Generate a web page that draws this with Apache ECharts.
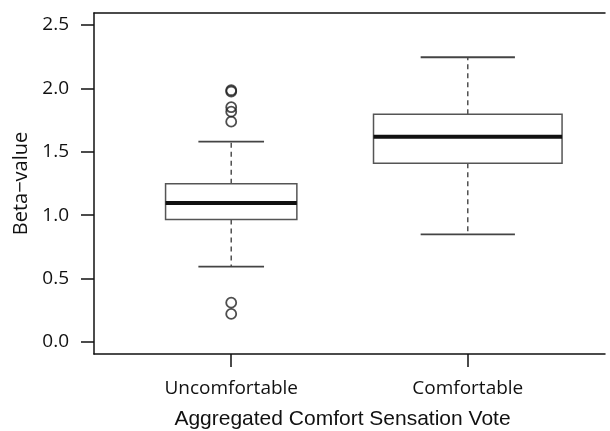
<!DOCTYPE html>
<html>
<head>
<meta charset="utf-8">
<script src="https://cdn.jsdelivr.net/npm/echarts@6/dist/echarts.min.js"></script>
<style>
  html, body { margin: 0; padding: 0; background: #fff; }
  #chart { width: 610px; height: 431px; }
</style>
</head>
<body>
<div id="chart"></div>
<script>
// groups on the x axis (positions 1 and 2)
const categories = ["Uncomfortable", "Comfortable"];
const positions = [1, 2];

// box statistics
const lowerWhisker = [0.594, 0.849];
const q1 = [0.965, 1.409];
const median = [1.096, 1.619];
const q3 = [1.248, 1.796];
const upperWhisker = [1.580, 2.245];
// relative box width (R varwidth, ~ sqrt(n))
const boxWidthRel = [0.555, 0.797];

// outliers: [group position, value]
const outliers = [
  [1, 1.985], [1, 1.975], [1, 1.851], [1, 1.816], [1, 1.737],
  [1, 0.310], [1, 0.221]
];

const yTicks = [0, 0.5, 1.0, 1.5, 2.0, 2.5];

const boxData = positions.map((p, i) => [
  p, lowerWhisker[i], q1[i], median[i], q3[i], upperWhisker[i]
]);

const ink = "#111";
const tickFont = "'Open Sans', 'Noto Sans', sans-serif";

const chart = echarts.init(document.getElementById("chart"));

function renderBox(params, api) {
  const x = api.value(0);
  const w = api.size([boxWidthRel[params.dataIndex], 0])[0];
  const lo = api.coord([x, api.value(1)]);
  const b1 = api.coord([x, api.value(2)]);
  const md = api.coord([x, api.value(3)]);
  const b3 = api.coord([x, api.value(4)]);
  const hi = api.coord([x, api.value(5)]);
  const cx = lo[0];
  const capHalf = w / 4;
  const dash = { stroke: "#444", lineWidth: 1.4, lineDash: [5, 4] };
  const solid = { stroke: "#444", lineWidth: 1.8 };
  return {
    type: "group",
    children: [
      { type: "line", shape: { x1: cx, y1: b3[1], x2: cx, y2: hi[1] }, style: dash },
      { type: "line", shape: { x1: cx, y1: b1[1], x2: cx, y2: lo[1] }, style: dash },
      { type: "line", shape: { x1: cx - capHalf, y1: hi[1], x2: cx + capHalf, y2: hi[1] }, style: solid },
      { type: "line", shape: { x1: cx - capHalf, y1: lo[1], x2: cx + capHalf, y2: lo[1] }, style: solid },
      {
        type: "rect",
        shape: { x: cx - w / 2, y: b3[1], width: w, height: b1[1] - b3[1] },
        style: { fill: "#fff", stroke: "#555", lineWidth: 1.5 }
      },
      { type: "line", shape: { x1: cx - w / 2, y1: md[1], x2: cx + w / 2, y2: md[1] }, style: { stroke: "#111", lineWidth: 4 } }
    ]
  };
}

chart.setOption({
  animation: false,
  backgroundColor: "#fff",
  grid: { left: 94, right: 5, top: 13, bottom: 77, outerBoundsMode: "none" },
  xAxis: [
    {
      type: "value",
      min: 0.42,
      max: 2.58,
      name: "Aggregated Comfort Sensation Vote",
      nameLocation: "middle",
      nameGap: 55,
      nameTextStyle: {
        fontFamily: "'Liberation Sans', Arial, sans-serif",
        fontSize: 21,
        color: ink,
        padding: [0, 14, 0, 0]
      },
      axisLine: { show: true, onZero: false, lineStyle: { color: ink, width: 1.5 } },
      axisTick: { show: true, length: 13, customValues: positions, lineStyle: { color: ink, width: 1.5 } },
      axisLabel: {
        customValues: positions,
        formatter: (v) => categories[Math.round(v) - 1],
        margin: 25,
        fontFamily: tickFont,
        fontSize: 19,
        color: ink
      },
      splitLine: { show: false }
    },
    {
      type: "value",
      position: "top",
      min: 0.42,
      max: 2.58,
      axisLine: { show: true, onZero: false, lineStyle: { color: ink, width: 1.5 } },
      axisTick: { show: false },
      axisLabel: { show: false },
      splitLine: { show: false }
    }
  ],
  yAxis: {
    type: "value",
    min: -0.095,
    max: 2.594,
    name: "Beta\u2212value",
    nameLocation: "middle",
    nameGap: 60,
    nameTextStyle: { fontFamily: tickFont, fontSize: 20, color: ink },
    axisLine: { show: true, onZero: false, lineStyle: { color: ink, width: 1.5 } },
    axisTick: { show: true, length: 13, customValues: yTicks, lineStyle: { color: ink, width: 1.5 } },
    axisLabel: {
      customValues: yTicks,
      formatter: (v) => v.toFixed(1),
      margin: 25,
      fontFamily: tickFont,
      fontSize: 19,
      color: ink
    },
    splitLine: { show: false }
  },
  series: [
    {
      type: "custom",
      renderItem: renderBox,
      encode: { x: 0, y: [1, 2, 3, 4, 5] },
      data: boxData,
      clip: false
    },
    {
      type: "scatter",
      data: outliers,
      symbol: "circle",
      symbolSize: 10,
      itemStyle: { color: "rgba(255,255,255,0)", borderColor: "#222", borderWidth: 1.8 }
    }
  ]
});
</script>
</body>
</html>
